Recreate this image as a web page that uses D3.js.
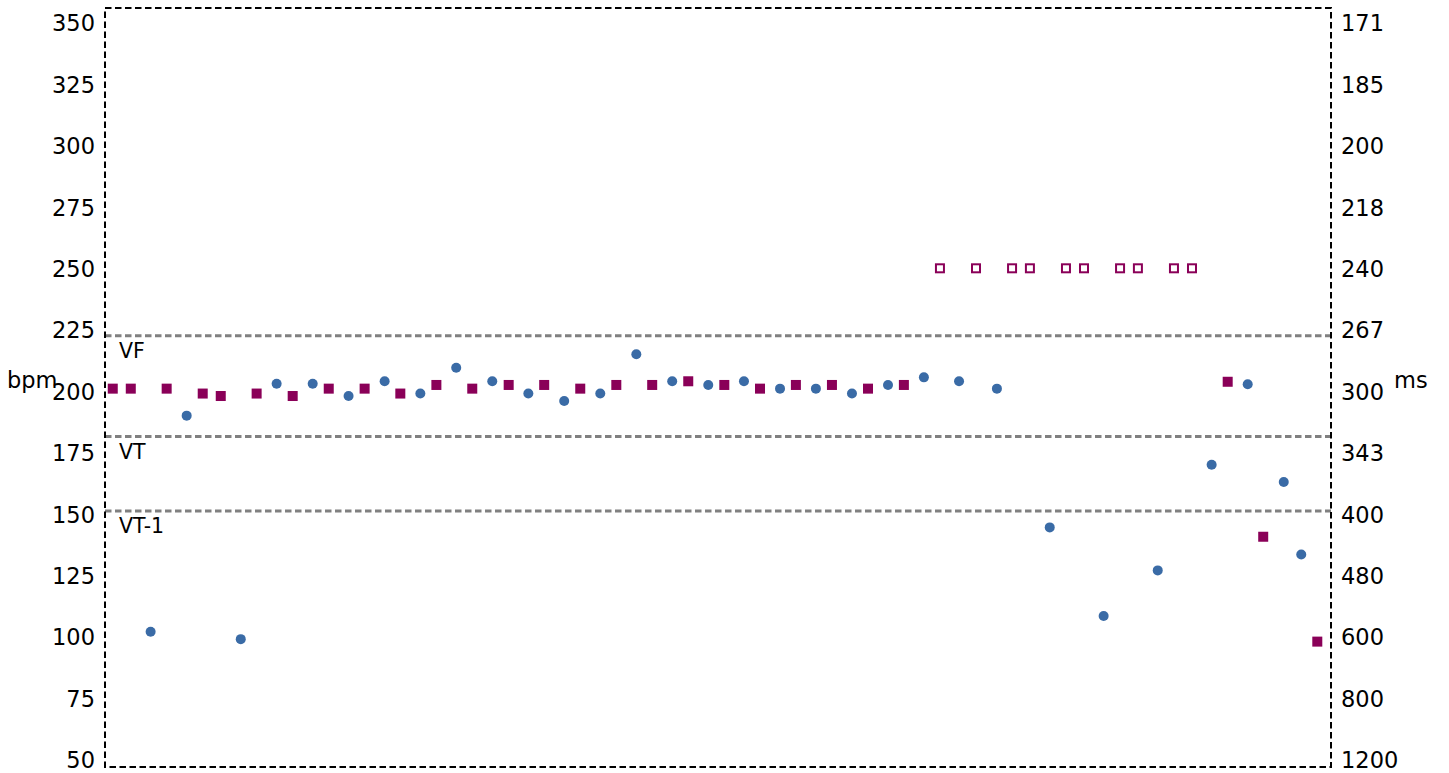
<!DOCTYPE html>
<html>
<head>
<meta charset="utf-8">
<script src="https://cdn.jsdelivr.net/npm/d3@7"></script>
<style>
  body { margin: 0; background: #fff; }
  text { font-family: "DejaVu Sans", sans-serif; fill: #000; }
</style>
</head>
<body>
<div id="chart"></div>
<script>
// beat times (beat index units) and rates (bpm)
var vTimes = [2.53, 4.53, 7.53, 9.52, 11.52, 13.51, 15.51, 17.49, 19.48, 21.48, 23.48, 25.47, 27.47,
  29.47, 31.46, 33.46, 35.44, 37.44, 39.43, 41.43, 43.43, 45.42, 47.37, 49.47, 52.40, 55.39, 58.39,
  61.38, 63.38, 65.38, 66.35];
var vRates = [102, 190, 99, 203, 203, 198, 204, 199, 209.5, 204, 199, 196, 199,
  215, 204, 202.5, 204, 201, 201, 199, 202.5, 205.6, 204, 201, 144.5, 108.4, 127,
  170, 202.8, 163, 133.5];

var aTimes = [0.43, 1.43, 3.42, 5.42, 6.42, 8.41, 10.41, 12.41, 14.40, 16.38, 18.38, 20.37, 22.39,
  24.36, 26.36, 28.36, 30.35, 32.35, 34.35, 36.33, 38.32, 40.32, 42.32, 44.31, 62.27, 64.24, 67.24];
var aRates = [201, 201, 201, 199, 198, 199, 198, 201, 201, 199, 202.5, 201, 202.5,
  202.5, 201, 202.5, 202.5, 204, 202.5, 201, 202.5, 202.5, 201, 202.5, 203.8, 140.7, 98];

var pacedTimes = [46.31, 48.31, 50.31, 51.30, 53.30, 54.30, 56.30, 57.29, 59.29, 60.29];
var pacedRates = [250, 250, 250, 250, 250, 250, 250, 250, 250, 250];

var bpmTicks = [50, 75, 100, 125, 150, 175, 200, 225, 250, 275, 300, 325, 350];
var zoneNames = ["VF", "VT", "VT-1"];
var zoneRates = [222.5, 181.5, 151.2];

function draw_chart() {
  var width = 1449, height = 773;
  var plotLeft = 105, plotRight = 1331, plotTop = 8, plotBottom = 767;

  var svg = d3.select("#chart").append("svg")
    .attr("width", width)
    .attr("height", height);

  var x = d3.scaleLinear().domain([0, 68]).range([plotLeft, plotRight]);
  var y = d3.scaleLinear().domain([50, 350]).range([759.5, 22.7]);

  //zone lines
  svg.selectAll(".zone").data(zoneRates).enter().append("line")
    .attr("x1", plotLeft).attr("x2", plotRight)
    .attr("y1", function(d) { return y(d); })
    .attr("y2", function(d) { return y(d); })
    .attr("stroke", "#808080").attr("stroke-width", 3)
    .attr("stroke-dasharray", "6.5,3.5");

  svg.selectAll(".zonelabel").data(zoneNames).enter().append("text")
    .attr("x", 119)
    .attr("y", function(d, i) { return y(zoneRates[i]) + 22; })
    .attr("font-size", 20.5)
    .text(function(d) { return d; });

  //border
  svg.append("rect")
    .attr("x", plotLeft).attr("y", plotTop)
    .attr("width", plotRight - plotLeft).attr("height", plotBottom - plotTop)
    .attr("fill", "none").attr("stroke", "#000").attr("stroke-width", 2)
    .attr("stroke-dasharray", "6.5,3.5");

  //left axis (bpm)
  var yaxisL = d3.axisLeft(y).tickValues(bpmTicks).tickSize(0).tickPadding(10);
  var gL = svg.append("g").attr("transform", "translate(" + plotLeft + ",0)").call(yaxisL);
  gL.select(".domain").remove();
  gL.selectAll("text").attr("font-size", 22.5).attr("font-family", "DejaVu Sans").attr("dy", "0.36em");

  //right axis (ms = 60000/bpm)
  var yaxisR = d3.axisRight(y).tickValues(bpmTicks).tickSize(0).tickPadding(10)
    .tickFormat(function(d) { return Math.round(60000 / d); });
  var gR = svg.append("g").attr("transform", "translate(" + plotRight + ",0)").call(yaxisR);
  gR.select(".domain").remove();
  gR.selectAll("text").attr("font-size", 22.5).attr("font-family", "DejaVu Sans").attr("dy", "0.36em");

  svg.append("text").attr("x", 7).attr("y", 388).attr("font-size", 22.5).text("bpm");
  svg.append("text").attr("x", 1394).attr("y", 388).attr("font-size", 22.5).text("ms");

  //ventricular beats
  svg.selectAll(".v").data(vTimes).enter().append("circle")
    .attr("cx", function(d) { return x(d); })
    .attr("cy", function(d, i) { return y(vRates[i]); })
    .attr("r", 5)
    .attr("fill", "#3a6ba6");

  //atrial beats
  svg.selectAll(".a").data(aTimes).enter().append("rect")
    .attr("x", function(d) { return x(d) - 5; })
    .attr("y", function(d, i) { return y(aRates[i]) - 5; })
    .attr("width", 10).attr("height", 10)
    .attr("fill", "#8a0058");

  //paced / open markers
  svg.selectAll(".p").data(pacedTimes).enter().append("rect")
    .attr("x", function(d) { return x(d) - 4; })
    .attr("y", function(d, i) { return y(pacedRates[i]) - 4; })
    .attr("width", 8).attr("height", 8)
    .attr("fill", "none").attr("stroke", "#8a0058").attr("stroke-width", 2);
}

draw_chart();
</script>
</body>
</html>
